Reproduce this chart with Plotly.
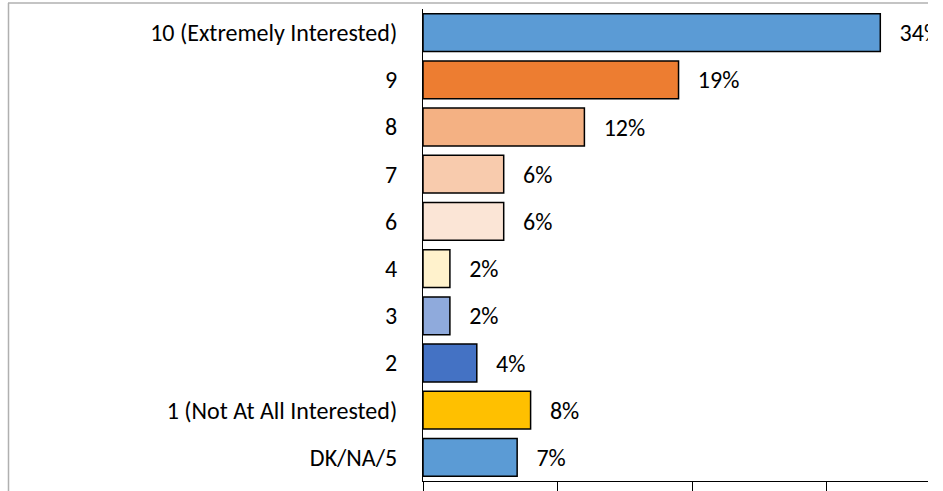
import plotly.graph_objects as go

categories = ["10 (Extremely Interested)", "9", "8", "7", "6", "4", "3", "2",
              "1 (Not At All Interested)", "DK/NA/5"]
values = [34, 19, 12, 6, 6, 2, 2, 4, 8, 7]
bar_colors = ["#5B9BD5", "#ED7D31", "#F4B183", "#F8CBAD", "#FBE5D6", "#FFF2CC",
              "#8FAADC", "#4472C4", "#FFC000", "#5B9BD5"]
x_ticks = [0, 10, 20, 30]

W, H = 943, 491
L, R, T, B = 423, 15, 9.4, 10
font_family = "Calibri, Carlito, Lato, sans-serif"

fig = go.Figure(go.Bar(
    x=values, y=categories, orientation="h",
    marker=dict(color=bar_colors, line=dict(color="black", width=1.5)),
    width=0.8,
    texttemplate="\u00a0\u00a0\u00a0%{x}%",
    textposition="outside",
    constraintext="none",
    cliponaxis=True,
    textfont=dict(family=font_family, size=24, color="black"),
))

pw = W - L - R
ph = H - T - B
px0 = lambda px: (px - L) / pw
py0 = lambda py: (H - B - py) / ph

fig.update_layout(
    width=W, height=H,
    margin=dict(l=L, r=R, t=T, b=B, pad=0, autoexpand=False),
    paper_bgcolor="white", plot_bgcolor="white",
    showlegend=False,
    bargap=0.2,
    font=dict(family=font_family, size=24, color="black"),
    xaxis=dict(range=[0, (928 - 423) / 13.45], tickvals=x_ticks, showticklabels=False,
               ticks="outside", ticklen=10, tickcolor="black", tickwidth=1,
               showline=True, linecolor="black", linewidth=1, showgrid=False,
               zeroline=False, fixedrange=True, automargin=False),
    yaxis=dict(categoryorder="array", categoryarray=categories, autorange="reversed",
               showline=True, linecolor="black", linewidth=1, ticks="",
               ticklabelstandoff=20, showgrid=False, fixedrange=True, automargin=False,
               tickfont=dict(family=font_family, size=24, color="black")),
    shapes=[
        dict(type="line", xref="paper", yref="paper", x0=px0(8), x1=px0(928),
             y0=py0(3.5), y1=py0(3.5), line=dict(color="#B0B0B0", width=1.5), layer="above"),
        dict(type="line", xref="paper", yref="paper", x0=px0(8.5), x1=px0(8.5),
             y0=py0(3.5), y1=py0(500), line=dict(color="#B0B0B0", width=1.5), layer="above"),
    ],
)

fig.write_html("out.html", config={"displayModeBar": False, "staticPlot": True},
               post_script="document.body.style.margin='0';document.body.style.padding='0';")
